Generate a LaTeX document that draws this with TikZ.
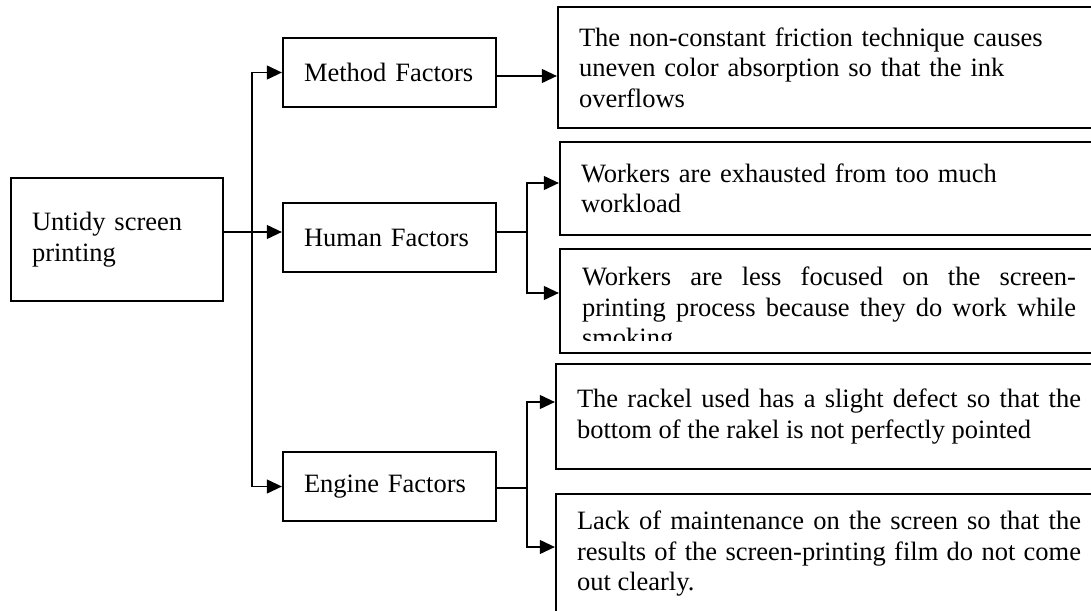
\documentclass[tikz,border=0pt]{standalone}
\usepackage{fontspec}
\setmainfont{Liberation Serif}
\usetikzlibrary{arrows.meta, calc, positioning}

\begin{document}
\begin{tikzpicture}[x=1pt, y=-1pt]
% TikZ styles
\tikzset{
  cause/.style={rectangle, draw=black, line width=2.3pt, inner xsep=21pt, inner ysep=0pt, align=left, font=\fontsize{26.5}{30.5}\selectfont},
  factor/.style={cause, text width=171pt, minimum height=69pt},
  effect/.style={cause, align=justify},
  arrow/.style={-{Triangle[length=15pt, width=14pt]}, line width=1.1pt},
  line/.style={line width=1.1pt}
};
\useasboundingbox (0,0) rectangle (1091,610);
\clip (0,0) rectangle (1091,610);

%==========================
% Problem und Faktoren
%==========================
\node[cause, text width=170pt, minimum height=123pt] (root) at (117,239.5) {Untidy screen\\printing};

\node[factor] (method) at (389.5,72.5) {Method Factors};
\node[factor] (human)  at (389.5,237.5) {Human Factors};
\node[factor] (engine) at (389.5,486.5) {Engine Factors};

%==========================
% Ursachen rechts
%==========================
\node[cause, text width=500pt, minimum height=121pt] (friction) at (829,67.5) {The non-constant friction technique causes\\uneven color absorption so that the ink\\overflows};

\node[cause, text width=496pt, minimum height=93pt] (exhaust) at (829,188.5) {Workers are exhausted from too much\\workload};

\node[effect, text width=496pt, minimum height=104pt] (focus) at (829,301) {};
\begin{scope}
\clip (focus.north west) rectangle ($(focus.south east)+(0,-14)$);
\node[effect, draw=none, inner xsep=0pt, text width=494pt] (focustext) at (829,310) {Workers are less focused on the screen-\linebreak printing process because they do work while smoking};
\end{scope}

\node[effect, text width=504pt, minimum height=105pt] (rakel) at (829,416.5) {The rackel used has a slight defect so that the\linebreak bottom of the rakel is not perfectly pointed};

\node[effect, text width=504pt, minimum height=120pt] (upkeep) at (829,554) {Lack of maintenance on the screen so that the\linebreak results of the screen-printing film do not come\linebreak out clearly.};

% === Pfeile ===
\coordinate (trunk) at (252,232);
\draw[line] (root.east |- trunk) -- (trunk);
\draw[arrow] (trunk) -- (trunk -| human.west);
\draw[arrow] (trunk) |- (method.west);
\draw[arrow] (trunk) |- (engine.west);

\draw[arrow] ($(method.east)+(0,3.5)$) -- ($(friction.west)+(0,8.5)$);

\coordinate (hsplit) at (527,232);
\draw[line] (human.east |- hsplit) -- (hsplit);
\draw[arrow] (hsplit) |- ($(exhaust.west)+(0,-5.5)$);
\draw[arrow] (hsplit) |- ($(focus.west)+(0,-8)$);

\coordinate (esplit) at (527,488);
\draw[line] (engine.east |- esplit) -- (esplit);
\draw[arrow] (esplit) |- ($(rakel.west)+(0,-14.5)$);
\draw[arrow] (esplit) |- ($(upkeep.west)+(0,-7)$);
\end{tikzpicture}
\end{document}
